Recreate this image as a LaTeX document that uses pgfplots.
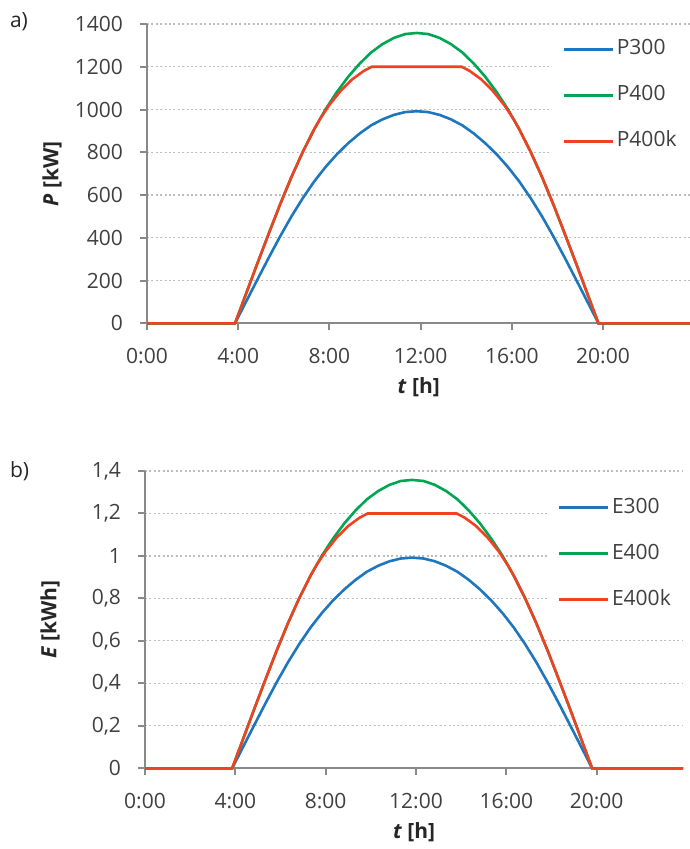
\documentclass[border=0pt]{standalone}
\usepackage{fontspec}
\setmainfont{Open Sans}
\usepackage{pgfplots}
\usepackage{pgfplotstable}
\pgfplotsset{compat=1.18}
\definecolor{cblue}{RGB}{30,119,190}
\definecolor{cgreen}{RGB}{0,166,81}
\definecolor{cred}{RGB}{240,65,35}
\definecolor{axgray}{RGB}{137,137,137}
\definecolor{grgray}{RGB}{190,190,190}
\definecolor{txt}{RGB}{64,64,64}

\pgfplotstableread{
t P
0 0
3.86 0
4.33 98
4.83 202
5.33 305
5.83 405
6.33 499
6.83 585
7.33 663
7.83 731
8.33 791
8.83 843
9.33 888
9.83 926
10.33 954
10.83 975
11.33 988
11.83 992
12.33 988
12.83 975
13.33 954
13.83 926
14.33 888
14.83 843
15.33 791
15.83 731
16.33 663
16.83 585
17.33 499
17.83 405
18.33 305
18.83 202
19.33 98
19.80 0
23.83 0
}\tblue

\pgfplotstableread{
t P
0 0
3.86 0
4.33 134
4.83 277
5.33 417
5.83 554
6.33 683
6.83 801
7.33 907
7.83 1001
8.33 1082
8.83 1154
9.33 1215
9.83 1267
10.33 1306
10.83 1335
11.33 1353
11.83 1358
12.33 1353
12.83 1335
13.33 1306
13.83 1267
14.33 1215
14.83 1154
15.33 1082
15.83 1001
16.33 907
16.83 801
17.33 683
17.83 554
18.33 417
18.83 277
19.33 134
19.80 0
23.83 0
}\tgreen

\pgfplotstableread{
t P
0 0
3.86 0
4.33 134
4.83 277
5.33 417
5.83 554
6.33 683
6.83 801
7.33 907
7.59 956
8.00 1022
8.50 1088
9.00 1141
9.50 1180
9.86 1200
13.80 1200
14.16 1180
14.66 1141
15.16 1088
15.66 1022
16.07 956
16.33 907
16.83 801
17.33 683
17.83 554
18.33 417
18.83 277
19.33 134
19.80 0
23.83 0
}\tred

\pgfplotstableread{
t E
0 0
3.86 0
4.33 0.098
4.83 0.202
5.33 0.305
5.83 0.405
6.33 0.499
6.83 0.585
7.33 0.663
7.83 0.731
8.33 0.791
8.83 0.843
9.33 0.888
9.83 0.926
10.33 0.954
10.83 0.975
11.33 0.988
11.83 0.992
12.33 0.988
12.83 0.975
13.33 0.954
13.83 0.926
14.33 0.888
14.83 0.843
15.33 0.791
15.83 0.731
16.33 0.663
16.83 0.585
17.33 0.499
17.83 0.405
18.33 0.305
18.83 0.202
19.33 0.098
19.80 0
23.83 0
}\tEblue

\pgfplotstableread{
t E
0 0
3.86 0
4.33 0.134
4.83 0.277
5.33 0.417
5.83 0.554
6.33 0.683
6.83 0.801
7.33 0.907
7.83 1.001
8.33 1.082
8.83 1.154
9.33 1.215
9.83 1.267
10.33 1.306
10.83 1.335
11.33 1.353
11.83 1.358
12.33 1.353
12.83 1.335
13.33 1.306
13.83 1.267
14.33 1.215
14.83 1.154
15.33 1.082
15.83 1.001
16.33 0.907
16.83 0.801
17.33 0.683
17.83 0.554
18.33 0.417
18.83 0.277
19.33 0.134
19.80 0
23.83 0
}\tEgreen

\pgfplotstableread{
t E
0 0
3.86 0
4.33 0.134
4.83 0.277
5.33 0.417
5.83 0.554
6.33 0.683
6.83 0.801
7.33 0.907
7.59 0.956
8.00 1.022
8.50 1.088
9.00 1.141
9.50 1.180
9.86 1.200
13.80 1.200
14.16 1.180
14.66 1.141
15.16 1.088
15.66 1.022
16.07 0.956
16.33 0.907
16.83 0.801
17.33 0.683
17.83 0.554
18.33 0.417
18.83 0.277
19.33 0.134
19.80 0
23.83 0
}\tEred

\pgfplotsset{
  common/.style={
    scale only axis,
    anchor=south west,
    xmin=0, xmax=23.833,
    axis x line*=bottom, axis y line*=left,
    axis line style={-, draw=axgray, line width=1pt},
    tick align=outside,
    major tick length=3.5pt,
    tick style={draw=axgray, line width=1pt},
    minor tick num=0,
    xtick={0,4,8,12,16,20},
    xticklabels={0:00,4:00,8:00,12:00,16:00,20:00},
    ymajorgrids,
    major grid style={draw=grgray, line width=0.6pt, dash pattern=on 1pt off 1.2pt},
    tick label style={font=\fontsize{10.5}{12}\selectfont, text=txt},
    xticklabel style={yshift=-5.5pt},
    yticklabel style={xshift=-5pt},
    /pgf/number format/assume math mode=true,
    /pgf/number format/1000 sep={},
    label style={font=\fontsize{10.5}{12}\selectfont\bfseries, text=black!85},
    xlabel style={at={(axis description cs:0.5,0)}, anchor=center, yshift=-32pt},
    ylabel style={at={(axis description cs:0,0.5)}, anchor=center, yshift=47.5pt},
    clip=false,
    legend cell align=left,
    legend image code/.code={\draw[##1, line width=1.3pt] (0pt,0pt) -- (24.5pt,0pt);},
    legend style={draw=none, fill=white, font=\fontsize{10.5}{12}\selectfont, text=txt,
      inner xsep=5pt, row sep=9.5pt,
      nodes={inner sep=1.5pt, text height=8pt, text depth=2.5pt}},
  },
  every axis plot/.append style={line width=1.3pt, mark=none},
}

\begin{document}
\begin{tikzpicture}
\path[use as bounding box] (0,0) rectangle (344.5pt,-424.5pt);

\node[anchor=west, font=\fontsize{10.5}{12}\selectfont, text=black!85] at (1.5pt,-11pt) {a)};
\node[anchor=west, font=\fontsize{10.5}{12}\selectfont, text=black!85] at (1.5pt,-235.5pt) {b)};

\begin{axis}[common,
  at={(73.5pt,-161.65pt)},
  width=271.7pt, height=149.65pt,
  ymin=0, ymax=1400, ytick={0,200,...,1400},
  xlabel={\textit{t} [h]}, ylabel={\textit{P} [kW]},
  legend style={at={(0.745,0.983)}, anchor=north west, inner ysep=3.25pt},
]
\addplot[cblue] table[x=t,y=P] {\tblue};
\addplot[cgreen] table[x=t,y=P] {\tgreen};
\addplot[cred] table[x=t,y=P] {\tred};
\legend{P300,P400,P400k}
\end{axis}

\begin{axis}[common,
  at={(72.5pt,-384.15pt)},
  width=269.1pt, height=148.65pt,
  ymin=0, ymax=1.4, ytick={0,0.2,0.4,0.6,0.8,1,1.2,1.4},
  yticklabels={0,{0,2},{0,4},{0,6},{0,8},1,{1,2},{1,4}},
  xlabel={\textit{t} [h]}, ylabel={\textit{E} [kWh]},
  legend style={at={(0.747,0.966)}, anchor=north west, inner ysep=6.25pt},
]
\addplot[cblue] table[x=t,y=E] {\tEblue};
\addplot[cgreen] table[x=t,y=E] {\tEgreen};
\addplot[cred] table[x=t,y=E] {\tEred};
\legend{E300,E400,E400k}
\end{axis}
\end{tikzpicture}
\end{document}
